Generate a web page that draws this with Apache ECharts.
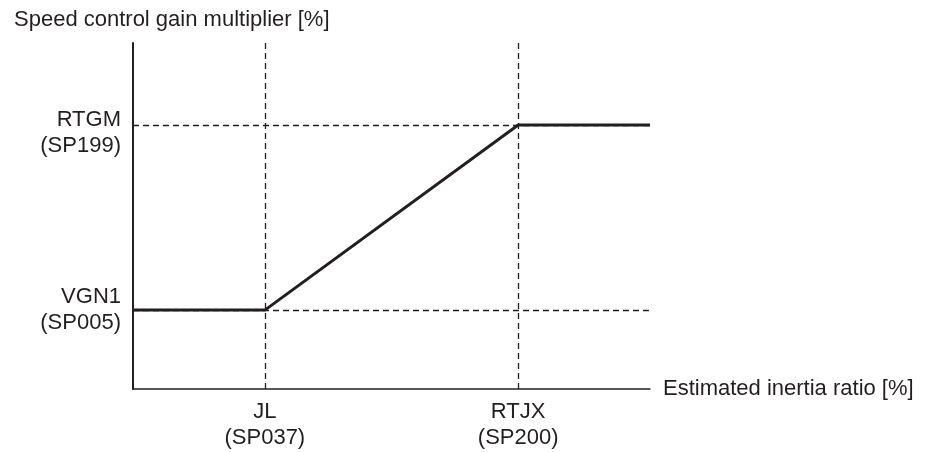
<!DOCTYPE html>
<html>
<head>
<meta charset="utf-8">
<script src="https://cdn.jsdelivr.net/npm/echarts@6/dist/echarts.min.js"></script>
<style>html,body{margin:0;padding:0;background:#fff}#c{width:926px;height:452px}</style>
</head>
<body>
<div id="c"></div>
<script>
// Data
var xPoints = [0, 25.5, 74.5, 100];     // estimated inertia ratio (schematic units)
var yPoints = [22.8, 22.8, 76.3, 76.3]; // gain multiplier (schematic units)
var xTickValues = [25.5, 74.5];
var xTickLabels = ['JL\n(SP037)', 'RTJX\n(SP200)'];
var yTickValues = [22.8, 76.3];
var yTickLabels = ['{t|VGN1}\n{t|(SP005)}', '{g| }\n{t|RTGM}\n{t|(SP199)}'];
var yTitle = 'Speed control gain multiplier [%]';
var xTitle = 'Estimated inertia ratio [%]';

var ink = '#231f20';
var font = 'Liberation Sans, Arial, Helvetica, sans-serif';
var fs = 22;

var chart = echarts.init(document.getElementById('c'), null, {renderer: 'canvas'});
var lineData = xPoints.map(function (x, i) { return [x, yPoints[i]]; });

var markData = [];
xTickValues.forEach(function (v) { markData.push({xAxis: v}); });
yTickValues.forEach(function (v) { markData.push({yAxis: v}); });

chart.setOption({
  animation: false,
  backgroundColor: '#fff',
  title: {
    text: yTitle, left: 9, top: 4,
    textStyle: {fontFamily: font, fontSize: fs, fontWeight: 'normal', color: ink}
  },
  grid: {left: 133, right: 276, top: 43, bottom: 63},
  xAxis: {
    type: 'value', min: 0, max: 100,
    name: xTitle, nameLocation: 'end', nameGap: 13,
    nameTextStyle: {fontFamily: font, fontSize: fs, color: ink},
    axisLine: {show: true, lineStyle: {color: ink, width: 1.5}},
    axisTick: {show: false},
    splitLine: {show: false},
    axisLabel: {
      customValues: xTickValues,
      formatter: function (v) { var i = xTickValues.indexOf(v); return i >= 0 ? xTickLabels[i] : ''; },
      fontFamily: font, fontSize: fs, color: ink, lineHeight: 26, margin: 10, align: 'center'
    }
  },
  yAxis: {
    type: 'value', min: 0, max: 100,
    axisLine: {show: true, lineStyle: {color: ink, width: 2}},
    axisTick: {show: false},
    splitLine: {show: false},
    axisLabel: {
      customValues: yTickValues,
      formatter: function (v) { var i = yTickValues.indexOf(v); return i >= 0 ? yTickLabels[i] : ''; },
      fontFamily: font, fontSize: fs, color: ink, margin: 12, align: 'right',
      rich: {
        t: {fontFamily: font, fontSize: fs, color: ink, lineHeight: 26, align: 'right'},
        g: {fontSize: 1, lineHeight: 16}
      }
    }
  },
  series: [{
    type: 'line',
    data: lineData,
    symbol: 'none',
    lineStyle: {color: ink, width: 3},
    z: 5,
    markLine: {
      silent: true,
      symbol: 'none',
      label: {show: false},
      lineStyle: {color: ink, width: 1.3, type: [6, 4]},
      data: markData,
      z: 2
    }
  }]
});
</script>
</body>
</html>
